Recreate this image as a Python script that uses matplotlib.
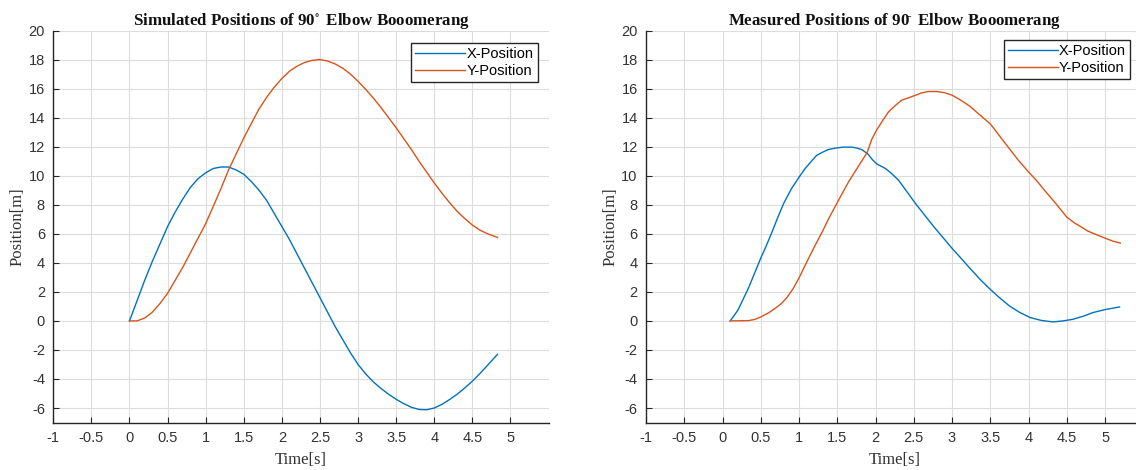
import matplotlib
matplotlib.use("Agg")
import matplotlib.pyplot as plt

# ---------------- data ----------------
sim_x_t = [0, 0.1, 0.2, 0.3, 0.4, 0.5, 0.6, 0.7, 0.8, 0.9, 1.0, 1.1, 1.2, 1.3, 1.4, 1.5,
           1.6, 1.7, 1.8, 1.9, 2.0, 2.1, 2.2, 2.3, 2.4, 2.5, 2.6, 2.7, 2.8, 2.9, 3.0, 3.1,
           3.2, 3.3, 3.4, 3.5, 3.6, 3.7, 3.8, 3.9, 4.0, 4.1, 4.2, 4.3, 4.4, 4.5, 4.6, 4.7, 4.83]
sim_x = [0, 1.4, 2.8, 4.1, 5.3, 6.5, 7.5, 8.4, 9.2, 9.8, 10.2, 10.5, 10.6, 10.6, 10.4, 10.1,
         9.6, 9.0, 8.3, 7.4, 6.5, 5.6, 4.6, 3.6, 2.6, 1.6, 0.6, -0.4, -1.3, -2.2, -3.0, -3.65,
         -4.2, -4.65, -5.05, -5.4, -5.7, -5.95, -6.1, -6.12, -6.0, -5.75, -5.42, -5.05, -4.62,
         -4.15, -3.62, -3.05, -2.3]
sim_y_t = [0, 0.1, 0.2, 0.3, 0.4, 0.5, 0.6, 0.7, 0.8, 0.9, 1.0, 1.1, 1.2, 1.3, 1.4, 1.5,
           1.6, 1.7, 1.8, 1.9, 2.0, 2.1, 2.2, 2.3, 2.4, 2.5, 2.6, 2.7, 2.8, 2.9, 3.0, 3.1,
           3.2, 3.3, 3.4, 3.5, 3.6, 3.7, 3.8, 3.9, 4.0, 4.1, 4.2, 4.3, 4.4, 4.5, 4.6, 4.7, 4.83]
sim_y = [0, 0.0, 0.2, 0.6, 1.2, 1.9, 2.8, 3.7, 4.7, 5.7, 6.7, 7.9, 9.1, 10.4, 11.5, 12.6,
         13.6, 14.6, 15.4, 16.1, 16.7, 17.2, 17.55, 17.8, 17.95, 18.0, 17.9, 17.7, 17.4, 17.0,
         16.5, 15.95, 15.35, 14.7, 14.0, 13.3, 12.55, 11.8, 11.0, 10.25, 9.5, 8.8, 8.15, 7.55,
         7.05, 6.6, 6.25, 6.0, 5.75]

meas_x_t = [0.1, 0.2, 0.27, 0.34, 0.42, 0.5, 0.57, 0.645, 0.72, 0.8, 0.9, 1.0, 1.08, 1.17,
            1.23, 1.3, 1.38, 1.47, 1.58, 1.69, 1.76, 1.82, 1.9, 1.96, 2.02, 2.13, 2.22, 2.3,
            2.41, 2.52, 2.64, 2.76, 2.88, 3.0, 3.12, 3.23, 3.36, 3.5, 3.62, 3.75, 3.88, 4.02,
            4.17, 4.32, 4.45, 4.58, 4.72, 4.84, 5.0, 5.19]
meas_x = [0, 0.73, 1.5, 2.28, 3.3, 4.33, 5.15, 6.1, 7.1, 8.1, 9.1, 9.9, 10.5, 11.05,
          11.4, 11.6, 11.8, 11.9, 11.97, 11.97, 11.9, 11.8, 11.5, 11.1, 10.8, 10.5, 10.1, 9.7,
          8.9, 8.1, 7.3, 6.5, 5.75, 5.0, 4.3, 3.65, 2.9, 2.17, 1.6, 1.03, 0.6, 0.23,
          0.03, -0.07, 0.0, 0.11, 0.33, 0.57, 0.78, 0.96]
meas_y_t = [0.1, 0.34, 0.42, 0.5, 0.6, 0.69, 0.77, 0.84, 0.92, 1.0, 1.1, 1.21, 1.3, 1.39,
            1.52, 1.65, 1.77, 1.89, 1.95, 2.02, 2.1, 2.17, 2.25, 2.34, 2.42, 2.5, 2.6, 2.69,
            2.8, 2.9, 3.0, 3.1, 3.23, 3.35, 3.5, 3.62, 3.75, 3.87, 4.0, 4.1, 4.2, 4.37, 4.5,
            4.6, 4.68, 4.77, 4.86, 5.0, 5.1, 5.2]
meas_y = [0, 0.02, 0.1, 0.27, 0.55, 0.87, 1.2, 1.6, 2.2, 2.96, 4.05, 5.2, 6.1, 7.07,
          8.35, 9.6, 10.6, 11.6, 12.5, 13.2, 13.85, 14.4, 14.8, 15.2, 15.35, 15.5, 15.7, 15.8,
          15.8, 15.72, 15.55, 15.25, 14.8, 14.25, 13.57, 12.75, 11.86, 11.05, 10.26, 9.7, 9.05,
          8.0, 7.15, 6.75, 6.5, 6.2, 6.0, 5.7, 5.5, 5.36]

titles = [r"Simulated Positions of 90$^{\circ}\,$ Elbow Booomerang",
          r"Measured Positions of 90$^{\bar{}}\;$ Elbow Booomerang"]
series_labels = ["X-Position", "Y-Position"]
xticks = [-1, -0.5, 0, 0.5, 1, 1.5, 2, 2.5, 3, 3.5, 4, 4.5, 5]
xticklabels = ["-1", "-0.5", "0", "0.5", "1", "1.5", "2", "2.5", "3", "3.5", "4", "4.5", "5"]
yticks = list(range(-6, 21, 2))
yticklabels = [str(v) for v in yticks]
xlabel = "Time[s]"
ylabel = "Position[m]"

BLUE = "#0072BD"
ORANGE = "#D95319"
AX = "#262626"

plt.rcParams["mathtext.fontset"] = "stix"
plt.rcParams["axes.unicode_minus"] = False
fig = plt.figure(figsize=(11.36, 4.70), dpi=100)
ax1 = fig.add_axes([0.0469, 0.101, 0.436, 0.834])
ax2 = fig.add_axes([0.5687, 0.101, 0.4377, 0.834])

data = [((sim_x_t, sim_x), (sim_y_t, sim_y)), ((meas_x_t, meas_x), (meas_y_t, meas_y))]
anchors = [(0.978, 0.969), (0.974, 0.977)]

for ax, title, (xs, ys), anc in zip([ax1, ax2], titles, data, anchors):
    ax.plot(xs[0], xs[1], color=BLUE, lw=1.0, label=series_labels[0])
    ax.plot(ys[0], ys[1], color=ORANGE, lw=1.0, label=series_labels[1])
    ax.set_xlim(-1, 5.5)
    ax.set_ylim(-7, 20)
    ax.set_xticks(xticks)
    ax.set_xticklabels(xticklabels)
    ax.set_yticks(yticks)
    ax.set_yticklabels(yticklabels)
    ax.grid(True, color="#dcdcdc", lw=0.8)
    ax.set_axisbelow(True)
    for s in ["top", "right"]:
        ax.spines[s].set_visible(False)
    for s in ["left", "bottom"]:
        ax.spines[s].set_color(AX)
        ax.spines[s].set_linewidth(1.0)
    ax.tick_params(direction="in", length=4, width=0.8, colors=AX, labelsize=10.5,
                   pad=6)
    for lab in ax.get_xticklabels() + ax.get_yticklabels():
        lab.set_family("Liberation Sans")
        lab.set_color("#333333")
    ax.set_title(title, fontfamily="Liberation Serif", fontweight="bold",
                 fontsize=12.2, pad=3, color="#111111")
    ax.set_xlabel(xlabel, fontfamily="Liberation Serif", fontsize=12, color="#333333",
                  labelpad=5)
    ax.set_ylabel(ylabel, fontfamily="Liberation Serif", fontsize=12, color="#333333",
                  labelpad=2)
    leg = ax.legend(loc="upper right", fancybox=False, framealpha=1, edgecolor=AX,
                    prop={"family": "Liberation Sans", "size": 10.5},
                    handlelength=3.4, handletextpad=0.1, borderpad=0.3,
                    labelspacing=0.2, borderaxespad=0.0,
                    bbox_to_anchor=anc)
    leg.get_frame().set_linewidth(1.0)

fig.savefig("out.png", dpi=100)
